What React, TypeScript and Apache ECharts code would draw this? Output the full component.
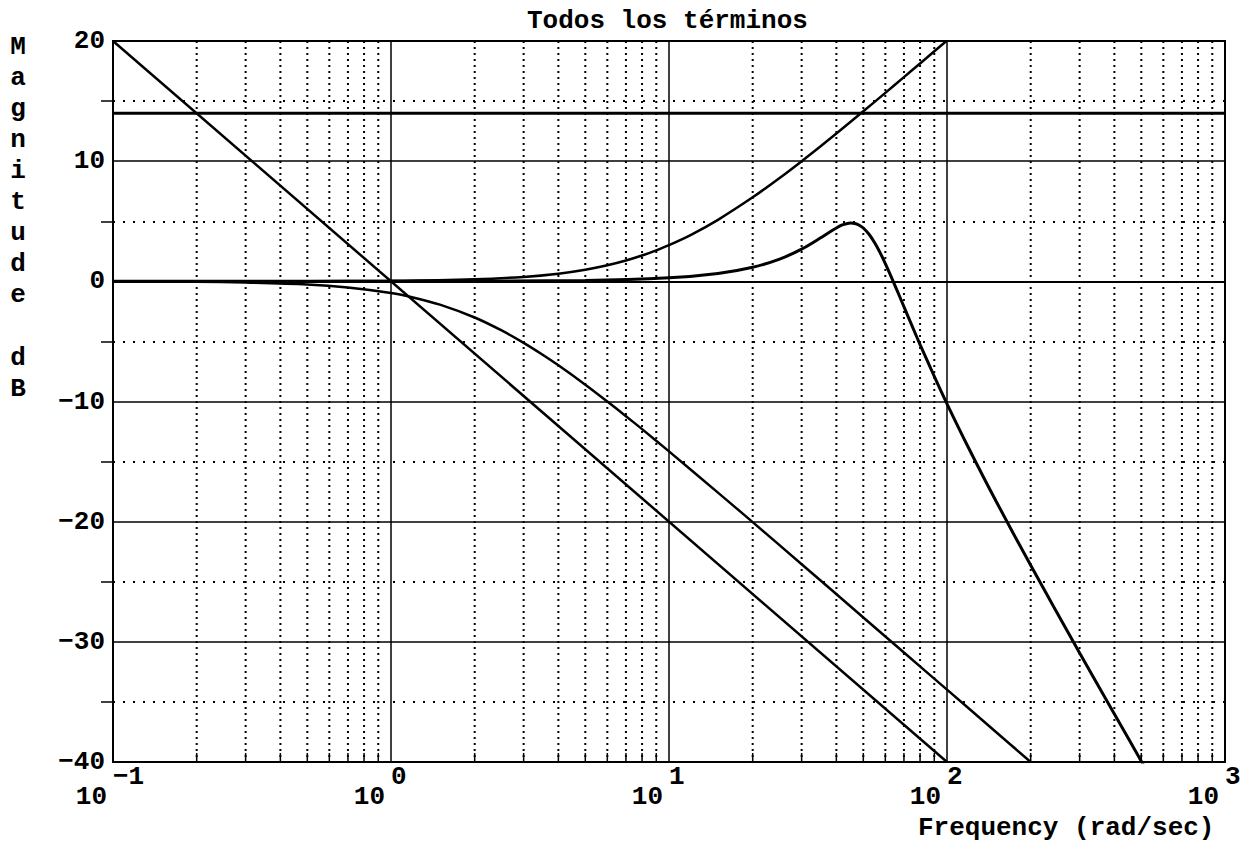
import { useEffect, useRef } from "react";
import * as echarts from "echarts";

const titleText = "Todos los términos";
const xAxisTitle = "Frequency (rad/sec)";
const yAxisLetters = ["M", "a", "g", "n", "i", "t", "u", "d", "e", "", "d", "B"];

const yTicks = [-40, -30, -20, -10, 0, 10, 20];

// constant gain term
const gainFreq = [0.1, 1000];
const gainDb = [13.98, 13.98];

// integrator term
const integFreq = [0.1, 100];
const integDb = [20, -40];

// zero term
const zeroFreq = [0.1, 0.5, 1, 2, 3, 4, 5, 6, 7, 8, 9, 10, 12, 15, 20, 25, 30, 40, 50, 60, 70, 80, 100];
const zeroDb = [0.0, 0.01, 0.04, 0.17, 0.37, 0.64, 0.97, 1.34, 1.74, 2.15, 2.58, 3.01, 3.87, 5.12, 6.99, 8.6, 10.0, 12.3, 14.15, 15.68, 16.99, 18.13, 20.04];

// first-order pole term
const poleFreq = [0.1, 0.2, 0.3, 0.5, 0.7, 1, 1.2, 1.5, 2, 2.5, 3, 3.5, 4, 5, 6, 7, 8, 10, 15, 20, 30, 50, 70, 100, 150, 200];
const poleDb = [-0.01, -0.04, -0.1, -0.26, -0.51, -0.97, -1.34, -1.94, -3.01, -4.09, -5.12, -6.09, -6.99, -8.6, -10.0, -11.22, -12.3, -14.15, -17.58, -20.04, -23.54, -27.97, -30.89, -33.98, -37.5, -40.0];

// second-order (resonant) term
const resFreq = [0.1, 1, 5, 10, 15, 20, 25, 30, 35, 37.5, 40, 42, 43, 45, 47, 48.5, 50, 52.5, 55, 57.5, 60, 62.5, 65, 67.5, 70, 75, 80, 90, 100, 120, 150, 200, 300, 400, 500, 520];
const resDb = [0.0, 0.0, 0.07, 0.29, 0.65, 1.17, 1.85, 2.68, 3.6, 4.05, 4.44, 4.69, 4.76, 4.85, 4.79, 4.65, 4.44, 3.9, 3.19, 2.37, 1.48, 0.56, -0.35, -1.24, -2.11, -3.75, -5.26, -7.91, -10.19, -13.93, -18.28, -23.63, -30.93, -36.01, -39.93, -40.62];

// minor grid frequencies
const minorFreqs = [
  0.2, 0.3, 0.4, 0.5, 0.6, 0.7, 0.8, 0.9,
  2, 3, 4, 5, 6, 7, 8, 9,
  20, 30, 40, 50, 60, 70, 80, 90,
  200, 300, 400, 500, 600, 700, 800, 900,
];

const FONT = "Liberation Mono";

const zip = (xs: number[], ys: number[]) => xs.map((x, i) => [x, ys[i]]);
const minus = (s: string) => s.replace("-", "\u2212");

export default function App() {
  const ref = useRef<HTMLDivElement>(null);

  useEffect(() => {
    if (!ref.current) return;
    const chart = echarts.init(ref.current, null, { renderer: "svg" });
    const yMin = yTicks[0];
    const yMax = yTicks[yTicks.length - 1];

    const lineSeries = (data: number[][], width: number, smooth: number | boolean = false) => ({
      type: "line",
      data,
      showSymbol: false,
      symbol: "none",
      clip: true,
      smooth,
      z: 5,
      lineStyle: { color: "#000", width },
      silent: true,
    });

    const textBase = { fontFamily: FONT, fontWeight: "bold", fontSize: 26, color: "#000" };
    const charW = 15.6;

    chart.setOption({
      animation: false,
      backgroundColor: "#fff",
      title: {
        text: titleText,
        left: 527,
        top: 8,
        padding: 0,
        textStyle: { ...textBase },
      },
      grid: {
        left: 113,
        top: 41,
        width: 1112,
        height: 721,
        show: true,
        borderColor: "#000",
        borderWidth: 2,
        backgroundColor: "transparent",
        containLabel: false,
        outerBoundsMode: "none",
      },
      xAxis: {
        type: "log",
        logBase: 10,
        min: 0.1,
        max: 1000,
        axisLine: { show: true, lineStyle: { color: "#000", width: 2 } },
        axisTick: { show: false },
        splitLine: { show: true, lineStyle: { color: "#000", width: 1.5 } },
        axisLabel: {
          margin: 2,
          hideOverlap: false,
          formatter: (v: number) => {
            const e = minus(String(Math.round(Math.log10(v))));
            return `{b|10}{${e.length > 1 ? "e2" : "e1"}|${e}}`;
          },
          rich: {
            b: { ...textBase, padding: [0, 6, 0, 0], verticalAlign: "bottom", lineHeight: 46 },
            e1: { ...textBase, padding: [0, 6 + charW, 0, 0], verticalAlign: "top", lineHeight: 46 },
            e2: { ...textBase, padding: [0, 6, 0, 0], verticalAlign: "top", lineHeight: 46 },
          },
        },
      },
      yAxis: {
        type: "value",
        min: yMin,
        max: yMax,
        interval: 10,
        axisLine: { show: true, lineStyle: { color: "#000", width: 2 } },
        axisTick: { show: false },
        minorTick: { show: true, splitNumber: 2, length: 12, lineStyle: { color: "#000", width: 1.5 } },
        splitLine: { show: true, lineStyle: { color: "#000", width: 1.5 } },
        minorSplitLine: { show: true, lineStyle: { color: "#000", width: 2, type: [2, 8] } },
        axisLabel: { ...textBase, margin: 8, formatter: (v: number) => minus(String(v)) },
      },
      graphic: [
        {
          type: "text",
          x: 18,
          y: 31,
          style: {
            text: yAxisLetters.join("\n"),
            font: `bold 26px "${FONT}"`,
            lineHeight: 31.1,
            textAlign: "center",
            fill: "#000",
          },
        },
        {
          type: "text",
          x: 918,
          y: 815,
          style: {
            text: xAxisTitle,
            font: `bold 26px "${FONT}"`,
            fill: "#000",
          },
        },
      ],
      series: [
        {
          type: "custom",
          silent: true,
          z: 1,
          clip: true,
          data: minorFreqs.map((f) => [f, yMin]),
          encode: { x: 0, y: 1 },
          renderItem: (_params: any, api: any) => {
            const x = api.value(0);
            const top = api.coord([x, yMax]);
            const bot = api.coord([x, yMin]);
            return {
              type: "group",
              children: [
                {
                  type: "line",
                  shape: { x1: top[0], y1: top[1], x2: bot[0], y2: bot[1] },
                  style: { stroke: "#000", lineWidth: 2, lineDash: [2, 4] },
                },
                {
                  type: "line",
                  shape: { x1: bot[0], y1: bot[1], x2: bot[0], y2: bot[1] - 9 },
                  style: { stroke: "#000", lineWidth: 1.5 },
                },
              ],
            };
          },
        },
        lineSeries(zip(gainFreq, gainDb), 3),
        lineSeries(zip(integFreq, integDb), 2.5),
        lineSeries(zip(zeroFreq, zeroDb), 2.5, 0.3),
        lineSeries(zip(poleFreq, poleDb), 2.5, 0.3),
        lineSeries(zip(resFreq, resDb), 3, 0.3),
      ],
    });

    return () => chart.dispose();
  }, []);

  return (
    <div
      ref={ref}
      style={{ position: "absolute", left: 0, top: 0, width: 1255, height: 850, background: "#fff" }}
    />
  );
}
